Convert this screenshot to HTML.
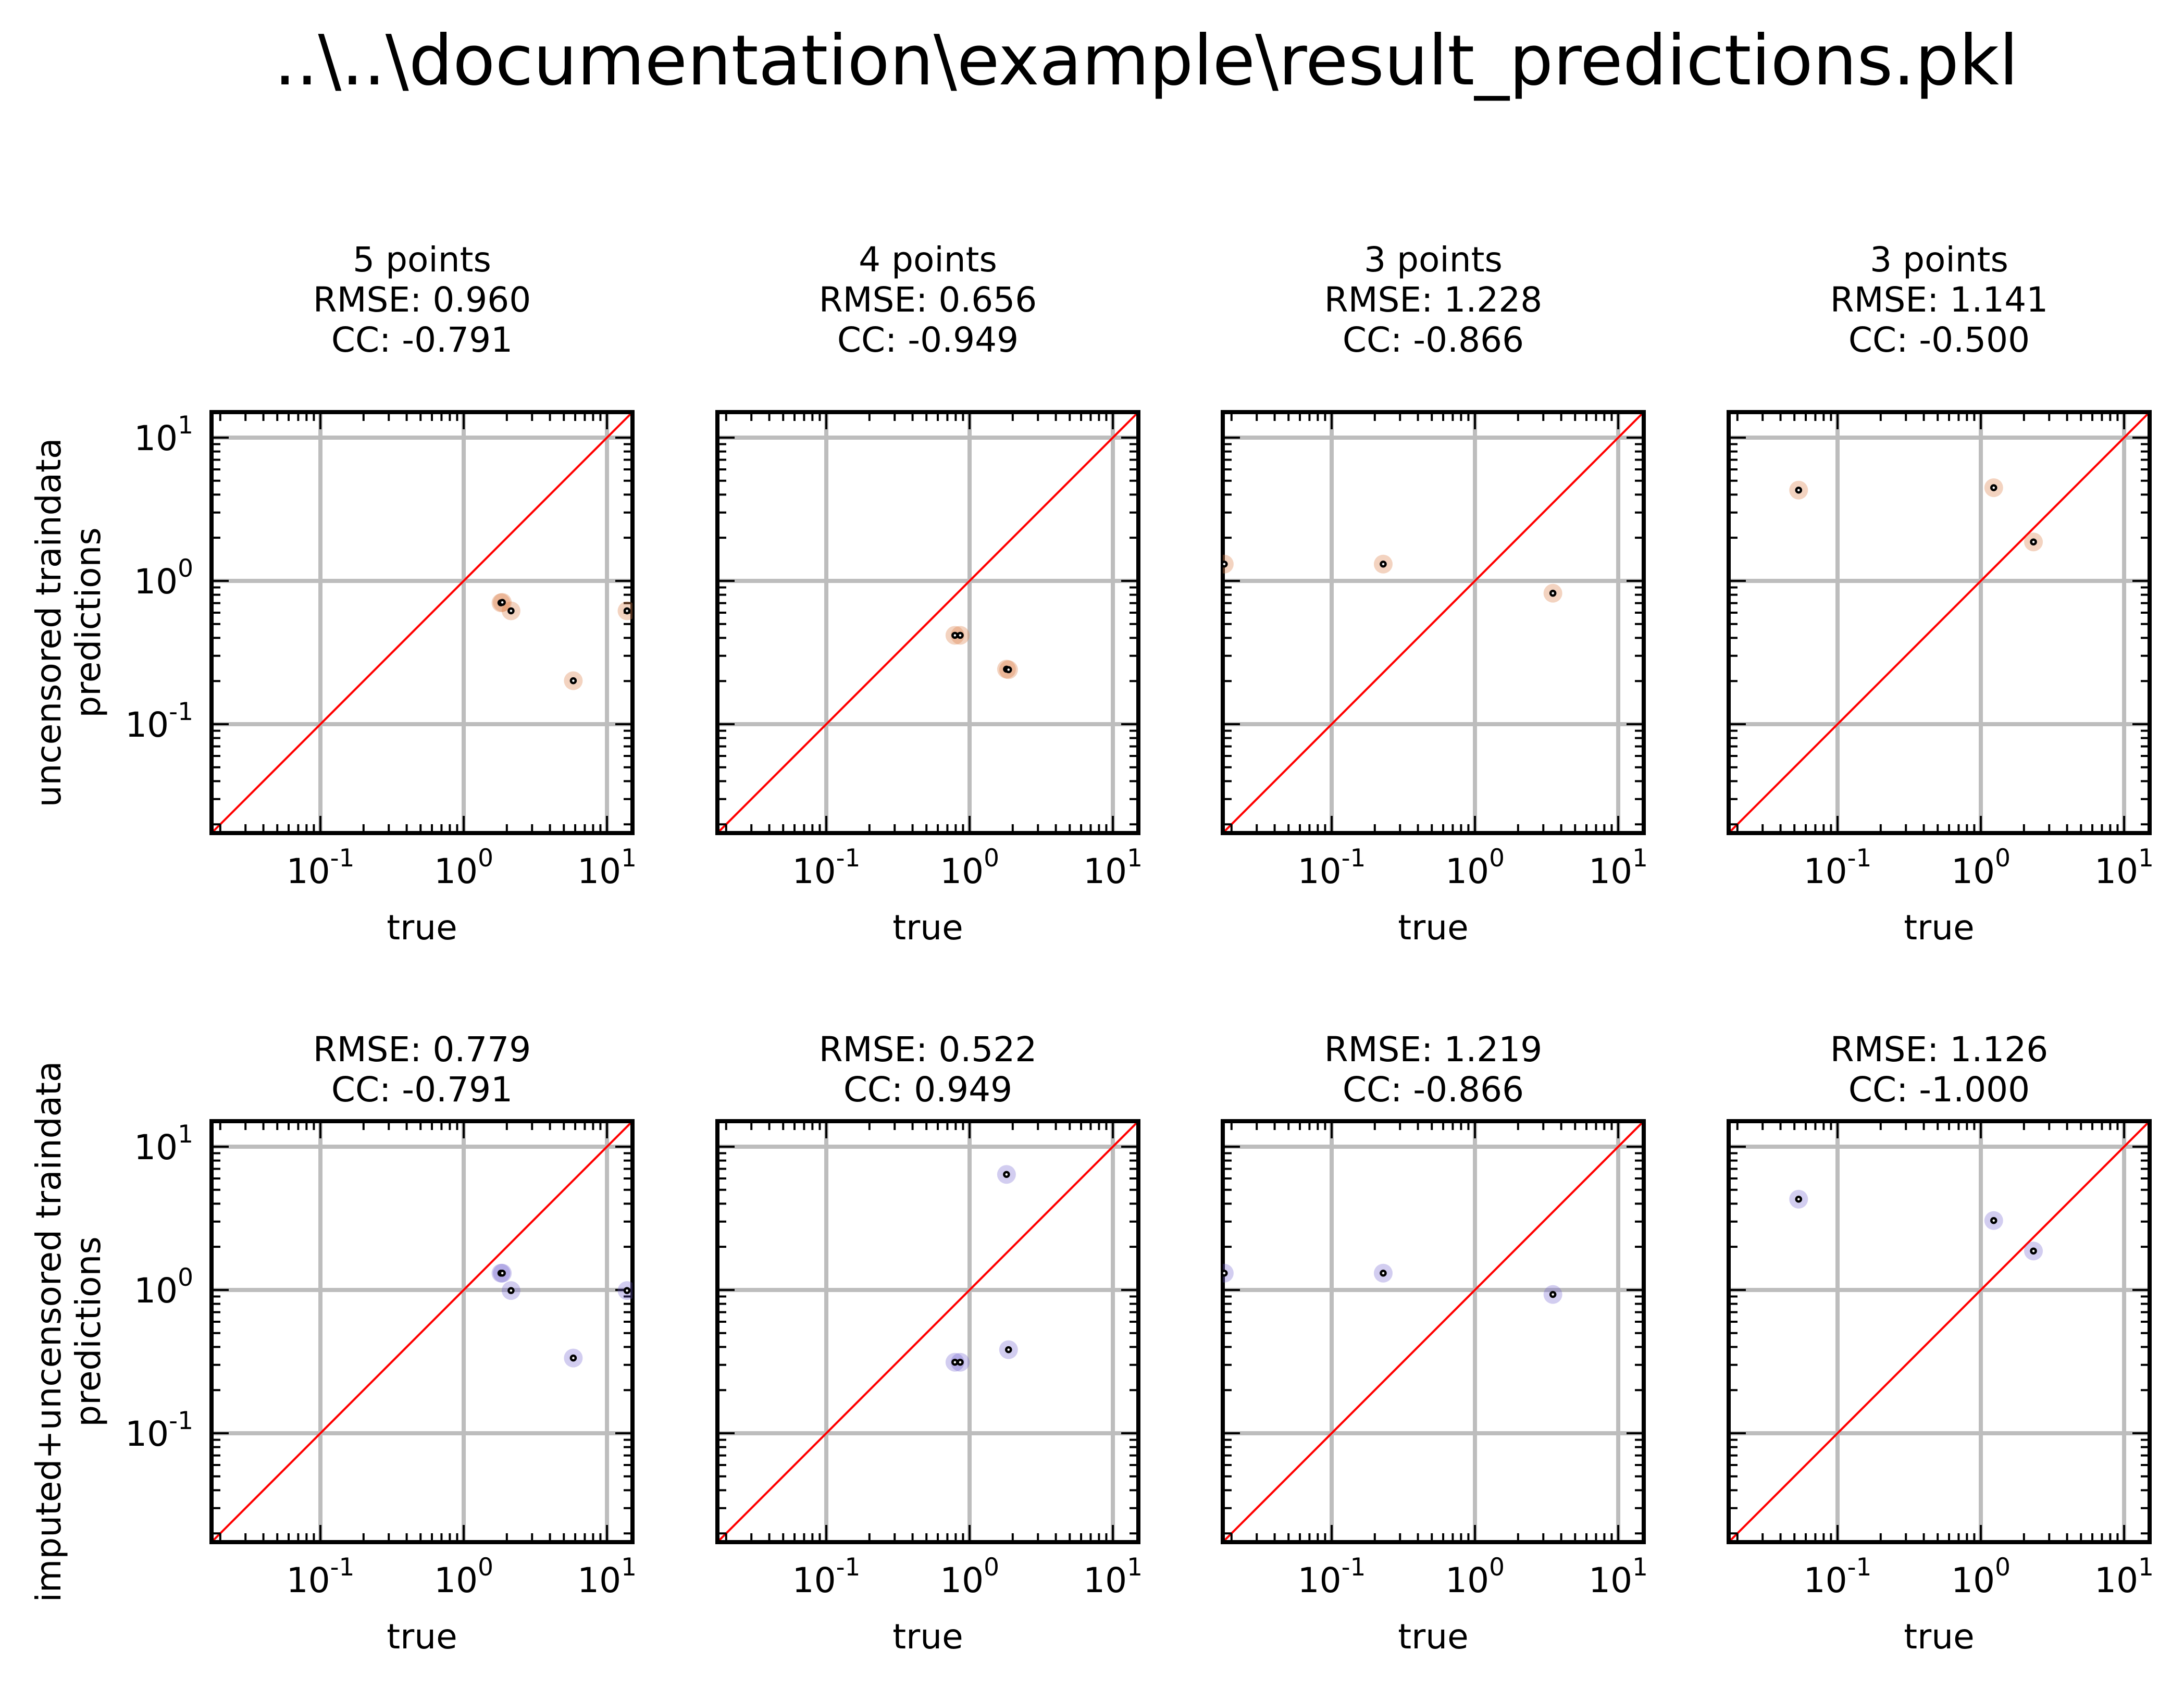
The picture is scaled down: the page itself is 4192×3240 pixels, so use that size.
<!DOCTYPE html>
<html><head><meta charset="utf-8"><style>
html,body{margin:0;padding:0;background:#fff;}
svg{display:block;font-family:"DejaVu Sans","Liberation Sans",sans-serif;}
</style></head><body>
<svg id="fig" width="4192" height="3240" viewBox="0 0 4192 3240" xmlns="http://www.w3.org/2000/svg">
<text x="2200" y="162" font-size="133" text-anchor="middle">..\..\documentation\example\result_predictions.pkl</text>
<g>
<text x="116" y="1195" font-size="66" text-anchor="middle" transform="rotate(-90 116 1195)">uncensored traindata</text>
<text x="192" y="1195" font-size="66" text-anchor="middle" transform="rotate(-90 192 1195)">predictions</text>
</g>
<g>
<text x="116" y="2556" font-size="66" text-anchor="middle" transform="rotate(-90 116 2556)">imputed+uncensored traindata</text>
<text x="192" y="2556" font-size="66" text-anchor="middle" transform="rotate(-90 192 2556)">predictions</text>
</g>
</svg>
<script>
// ---- data ----
const topTitles = [
  ["5 points","RMSE: 0.960","CC: -0.791"],
  ["4 points","RMSE: 0.656","CC: -0.949"],
  ["3 points","RMSE: 1.228","CC: -0.866"],
  ["3 points","RMSE: 1.141","CC: -0.500"]
];
const bottomTitles = [
  ["RMSE: 0.779","CC: -0.791"],
  ["RMSE: 0.522","CC: 0.949"],
  ["RMSE: 1.219","CC: -0.866"],
  ["RMSE: 1.126","CC: -1.000"]
];
const trueVals1 = [1.82, 1.86, 2.14, 5.82, 13.8];
const trueVals2 = [0.79, 0.86, 1.81, 1.87];
const trueVals3 = [0.0178, 0.229, 3.5];
const trueVals4 = [0.0535, 1.23, 2.33];
const predTop1 = [0.703, 0.708, 0.618, 0.201, 0.618];
const predTop2 = [0.417, 0.417, 0.242, 0.240];
const predTop3 = [1.31, 1.31, 0.82];
const predTop4 = [4.3, 4.47, 1.87];
const predBot1 = [1.31, 1.31, 0.99, 0.335, 0.99];
const predBot2 = [0.313, 0.313, 6.4, 0.383];
const predBot3 = [1.31, 1.31, 0.93];
const predBot4 = [4.3, 3.05, 1.87];
const tickExps = [-1, 0, 1];
const tickLabels = ["-1", "0", "1"];
const logMin = -1.76, logMax = 1.178;

// ---- layout ----
const NS = "http://www.w3.org/2000/svg";
const svg = document.getElementById("fig");
const panelLefts = [406, 1377, 2347, 3318];
const rowTops = [791, 2152];
const S = 808;
function mk(tag, attrs, parent){
  const e = document.createElementNS(NS, tag);
  for (const k in attrs) e.setAttribute(k, attrs[k]);
  (parent || svg).appendChild(e);
  return e;
}
function xScale(v, L){ return L + (Math.log10(v) - logMin) / (logMax - logMin) * S; }
function yScale(v, T){ return T + S - (Math.log10(v) - logMin) / (logMax - logMin) * S; }

const trueSets = [trueVals1, trueVals2, trueVals3, trueVals4];
const predSets = [[predTop1, predTop2, predTop3, predTop4], [predBot1, predBot2, predBot3, predBot4]];
const fills = ["rgba(220,130,75,0.35)", "rgba(106,90,205,0.3)"];

for (let r = 0; r < 2; r++) {
  const T = rowTops[r];
  for (let c = 0; c < 4; c++) {
    const L = panelLefts[c];
    const g = mk("g", {});
    
    
    const lines = r === 0 ? topTitles[c] : bottomTitles[c];
    const base = r === 0 ? 521 : 2037;
    lines.forEach((s, i) => {
      const t = mk("text", {x: L + S/2, y: base + i*77, "font-size": 66, "text-anchor": "middle"}, g);
      t.textContent = s;
      
      
    });
    tickExps.forEach(e => {
      const v = Math.pow(10, e);
      const gx = xScale(v, L), gy = yScale(v, T);
      const gl1 = mk("line", {x1: gx, x2: gx, y1: T, y2: T+S, stroke: "#bdbdbd", "stroke-width": 8}, g);
      
      
      const gl2 = mk("line", {x1: L, x2: L+S, y1: gy, y2: gy, stroke: "#bdbdbd", "stroke-width": 8}, g);
      
      
    });
    const d = mk("line", {x1: L, y1: T+S, x2: L+S, y2: T, stroke: "#ff0000", "stroke-width": 4}, g);
    
    
    for (let e = -2; e <= 1; e++) {
      for (let m = 1; m <= 9; m++) {
        const v = m * Math.pow(10, e);
        const lv = Math.log10(v);
        if (lv < logMin || lv > logMax) continue;
        const len = m === 1 ? 33 : 17;
        const tx = xScale(v, L), ty = yScale(v, T);
        const tk = mk("path", {d: `M${tx},${T+S} v${-len} M${tx},${T} v${len} M${L},${ty} h${len} M${L+S},${ty} h${-len}`, stroke: "#000", "stroke-width": 4, fill: "none"}, g);
        
        
      }
    }
    const fr = mk("rect", {x: L, y: T, width: S, height: S, fill: "none", stroke: "#000", "stroke-width": 8}, g);
    
    
    tickExps.forEach((e, i) => {
      const v = Math.pow(10, e);
      const xl = mk("text", {x: xScale(v, L), y: T+S+96, "font-size": 66, "text-anchor": "middle"}, g);
      xl.innerHTML = '10<tspan font-size="47" dy="-32">' + tickLabels[i] + '</tspan>';
      
      
      if (c === 0) {
        const yl = mk("text", {x: 371, y: yScale(v, T) + 24, "font-size": 66, "text-anchor": "end"}, g);
        yl.innerHTML = '10<tspan font-size="47" dy="-32">' + tickLabels[i] + '</tspan>';
        
        
      }
    });
    const xt = mk("text", {x: L + S/2, y: T + S + 204, "font-size": 66, "text-anchor": "middle"}, g);
    xt.textContent = "true";
    
    
    const cp = mk("clipPath", {id: "cp" + r + c}, g);
    mk("rect", {x: L, y: T, width: S, height: S}, cp);
    const pg = mk("g", {"clip-path": "url(#cp" + r + c + ")"}, g);
    const xs = trueSets[c], ys = predSets[r][c];
    xs.forEach((xv, i) => {
      const px = xScale(xv, L), py = yScale(ys[i], T);
      const halo = mk("circle", {cx: px, cy: py, r: 18, fill: fills[r]}, pg);
      
      
    });
    xs.forEach((xv, i) => {
      const px = xScale(xv, L), py = yScale(ys[i], T);
      const dot = mk("circle", {cx: px, cy: py, r: 4.5, fill: "#fff", stroke: "#000", "stroke-width": 4.5}, pg);
      
      
    });
  }
}
</script>
</body></html>
